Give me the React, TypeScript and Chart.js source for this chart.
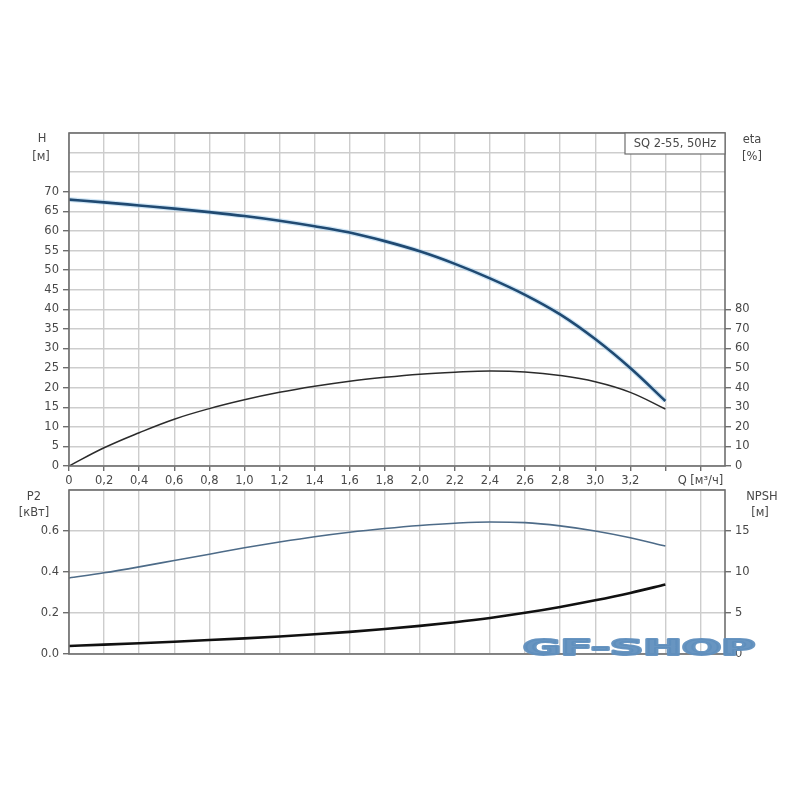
import { useEffect, useRef } from "react";
import { Chart, registerables } from "chart.js";

Chart.register(...registerables);

// ---- data ----
const flowQ = [0, 0.2, 0.4, 0.6, 0.8, 1.0, 1.2, 1.4, 1.6, 1.8, 2.0, 2.2, 2.4, 2.6, 2.8, 3.0, 3.2, 3.4];
const headH = [68.0, 67.3, 66.5, 65.7, 64.8, 63.8, 62.6, 61.2, 59.6, 57.4, 54.8, 51.6, 47.9, 43.7, 38.7, 32.4, 25.0, 16.6];
const etaPct = [0, 9.3, 17.0, 23.9, 29.3, 33.8, 37.6, 40.7, 43.3, 45.3, 46.9, 47.9, 48.5, 48.0, 46.2, 43.0, 37.6, 29.1];
const powerP2 = [0.371, 0.396, 0.425, 0.456, 0.487, 0.518, 0.546, 0.572, 0.594, 0.612, 0.627, 0.638, 0.644, 0.641, 0.625, 0.6, 0.567, 0.527];
const npshM = [0.98, 1.14, 1.31, 1.5, 1.7, 1.91, 2.14, 2.4, 2.7, 3.04, 3.43, 3.88, 4.4, 5.02, 5.74, 6.55, 7.45, 8.47];

const qTickValues = [0, 0.2, 0.4, 0.6, 0.8, 1.0, 1.2, 1.4, 1.6, 1.8, 2.0, 2.2, 2.4, 2.6, 2.8, 3.0, 3.2, 3.4, 3.6];
const qTickLabels = ["0", "0,2", "0,4", "0,6", "0,8", "1,0", "1,2", "1,4", "1,6", "1,8", "2,0", "2,2", "2,4", "2,6", "2,8", "3,0", "3,2", "", "Q [м³/ч]"];
const hTickValues = [0, 5, 10, 15, 20, 25, 30, 35, 40, 45, 50, 55, 60, 65, 70, 75, 80, 85];
const hTickLabels = ["0", "5", "10", "15", "20", "25", "30", "35", "40", "45", "50", "55", "60", "65", "70", "", "", ""];
const etaTickValues = [0, 10, 20, 30, 40, 50, 60, 70, 80, 90, 100, 110, 120, 130, 140, 150, 160, 170];
const etaTickLabels = ["0", "10", "20", "30", "40", "50", "60", "70", "80", "", "", "", "", "", "", "", "", ""];
const p2TickValues = [0, 0.2, 0.4, 0.6, 0.8];
const p2TickLabels = ["0.0", "0.2", "0.4", "0.6", ""];
const npshTickValues = [0, 5, 10, 15, 20];
const npshTickLabels = ["0", "5", "10", "15", ""];

const FONT = "'DejaVu Sans', sans-serif";
const TEXT = "#484848";
const GRID = "#cdcdcd";
const FRAME = "#6e6e6e";

const setTicks = (values: number[]) => (scale: any) => {
  scale.ticks = values.map((v) => ({ value: v }));
};
const labelFrom = (values: number[], labels: string[]) => (v: any) => {
  const i = values.findIndex((x) => Math.abs(x - Number(v)) < 1e-6);
  return i >= 0 ? labels[i] : "";
};
const tickColorFrom = (values: number[], labels: string[]) => (ctx: any) => {
  const v = ctx.tick ? ctx.tick.value : 0;
  const i = values.findIndex((x) => Math.abs(x - v) < 1e-6);
  return i >= 0 && labels[i] !== "" ? FRAME : "rgba(0,0,0,0)";
};

const framePlugin = {
  id: "frame",
  afterDraw(chart: any) {
    const { ctx, chartArea: a } = chart;
    ctx.save();
    ctx.strokeStyle = FRAME;
    ctx.lineWidth = 1.6;
    ctx.strokeRect(a.left, a.top, a.right - a.left, a.bottom - a.top);
    ctx.restore();
  },
};

function drawText(ctx: CanvasRenderingContext2D, t: string, x: number, y: number, size = 11.5, align: CanvasTextAlign = "center") {
  ctx.font = `${size}px ${FONT}`;
  ctx.fillStyle = TEXT;
  ctx.textAlign = align;
  ctx.textBaseline = "middle";
  ctx.fillText(t, x, y);
}

const topLabels = {
  id: "topLabels",
  afterDraw(chart: any) {
    const { ctx, chartArea: a } = chart;
    ctx.save();
    drawText(ctx, "H", 42, 139);
    drawText(ctx, "[м]", 41, 157);
    drawText(ctx, "eta", 752, 140);
    drawText(ctx, "[%]", 752, 157);
    // model box
    ctx.fillStyle = "#fff";
    ctx.fillRect(a.right - 100, a.top, 100, 21);
    ctx.strokeStyle = FRAME;
    ctx.lineWidth = 1.2;
    ctx.strokeRect(a.right - 100, a.top, 100, 21);
    drawText(ctx, "SQ 2-55, 50Hz", a.right - 50, a.top + 11, 11.5);
    ctx.restore();
  },
};

const bottomLabels = {
  id: "bottomLabels",
  afterDraw(chart: any) {
    const { ctx } = chart;
    ctx.save();
    drawText(ctx, "P2", 34, 497);
    drawText(ctx, "[кВт]", 34, 513);
    drawText(ctx, "NPSH", 762, 497);
    drawText(ctx, "[м]", 760, 513);
    // watermark
    ctx.font = `bold 21px ${FONT}`;
    const w = ctx.measureText("GF-SHOP").width;
    ctx.translate(523, 655);
    ctx.scale(232 / w, 1);
    ctx.fillStyle = "rgba(96,143,190,0.95)";
    ctx.strokeStyle = "rgba(96,143,190,0.95)";
    ctx.lineWidth = 2;
    ctx.lineJoin = "round";
    ctx.textAlign = "left";
    ctx.textBaseline = "alphabetic";
    ctx.fillText("GF-SHOP", 0, 0);
    ctx.strokeText("GF-SHOP", 0, 0);
    ctx.restore();
  },
};

const pts = (ys: number[]) => flowQ.map((q, i) => ({ x: q, y: ys[i] }));

export default function App() {
  const topRef = useRef<HTMLCanvasElement>(null);
  const botRef = useRef<HTMLCanvasElement>(null);

  useEffect(() => {
    const tickFont = { family: FONT, size: 11.5 };
    const xScale = (showLabels: boolean, height: number) => ({
      type: "linear" as const,
      min: 0,
      max: 3.74,
      afterBuildTicks: setTicks(qTickValues),
      afterFit: (s: any) => {
        s.height = height;
      },
      border: { display: false },
      grid: {
        color: GRID,
        lineWidth: 1.4,
        drawTicks: showLabels,
        tickLength: 5,
        tickColor: FRAME,
      },
      ticks: {
        display: showLabels,
        autoSkip: false,
        maxRotation: 0,
        padding: 3,
        color: TEXT,
        font: tickFont,
        callback: labelFrom(qTickValues, qTickLabels),
      },
    });
    const yScale = (pos: "left" | "right", min: number, max: number, values: number[], labels: string[], onArea: boolean, width: number) => ({
      type: "linear" as const,
      position: pos,
      min,
      max,
      afterBuildTicks: setTicks(values),
      afterFit: (s: any) => {
        s.width = width;
      },
      border: { display: false },
      grid: {
        color: GRID,
        lineWidth: 1.4,
        drawOnChartArea: onArea,
        tickLength: 6,
        tickColor: tickColorFrom(values, labels),
      },
      ticks: {
        autoSkip: false,
        padding: 4,
        color: TEXT,
        font: tickFont,
        callback: labelFrom(values, labels),
      },
    });

    const mono = { pointRadius: 0, cubicInterpolationMode: "monotone" as const };
    const smooth = { pointRadius: 0, tension: 0.4 };

    const top = new Chart(topRef.current!, {
      type: "line",
      data: {
        datasets: [
          { label: "H", order: 0, data: pts(headH), yAxisID: "y", borderColor: "#204a72", borderWidth: 2.6, ...mono },
          { label: "H glow", order: 2, data: pts(headH), yAxisID: "y", borderColor: "rgba(150,200,235,0.45)", borderWidth: 5, ...mono },
          { label: "eta", order: 1, data: pts(etaPct), yAxisID: "y2", borderColor: "#2b2b2b", borderWidth: 1.5, ...smooth },
        ],
      },
      options: {
        animation: false,
        responsive: false,
        events: [],
        layout: { padding: { top: 133, left: 0, right: 0, bottom: 0 } },
        plugins: { legend: { display: false }, tooltip: { enabled: false } },
        scales: {
          x: xScale(true, 334),
          y: yScale("left", 0, 85, hTickValues, hTickLabels, true, 69),
          y2: yScale("right", 0, 170, etaTickValues, etaTickLabels, false, 75),
        },
      },
      plugins: [framePlugin, topLabels],
    } as any);

    const bot = new Chart(botRef.current!, {
      type: "line",
      data: {
        datasets: [
          { label: "P2", data: pts(powerP2), yAxisID: "y", borderColor: "#4d6b88", borderWidth: 1.6, ...mono },
          { label: "NPSH", data: pts(npshM), yAxisID: "y2", borderColor: "#111111", borderWidth: 2.6, ...mono },
        ],
      },
      options: {
        animation: false,
        responsive: false,
        events: [],
        layout: { padding: { top: 490, left: 0, right: 0, bottom: 0 } },
        plugins: { legend: { display: false }, tooltip: { enabled: false } },
        scales: {
          x: xScale(false, 146),
          y: yScale("left", 0, 0.8, p2TickValues, p2TickLabels, true, 69),
          y2: yScale("right", 0, 20, npshTickValues, npshTickLabels, false, 75),
        },
      },
      plugins: [framePlugin, bottomLabels],
    } as any);

    return () => {
      top.destroy();
      bot.destroy();
    };
  }, []);

  const cv: React.CSSProperties = { position: "absolute", left: 0, top: 0, width: 800, height: 800 };
  return (
    <div style={{ position: "absolute", left: 0, top: 0, width: 800, height: 800, background: "#fff" }}>
      <canvas ref={topRef} width={800} height={800} style={cv} />
      <canvas ref={botRef} width={800} height={800} style={cv} />
    </div>
  );
}
